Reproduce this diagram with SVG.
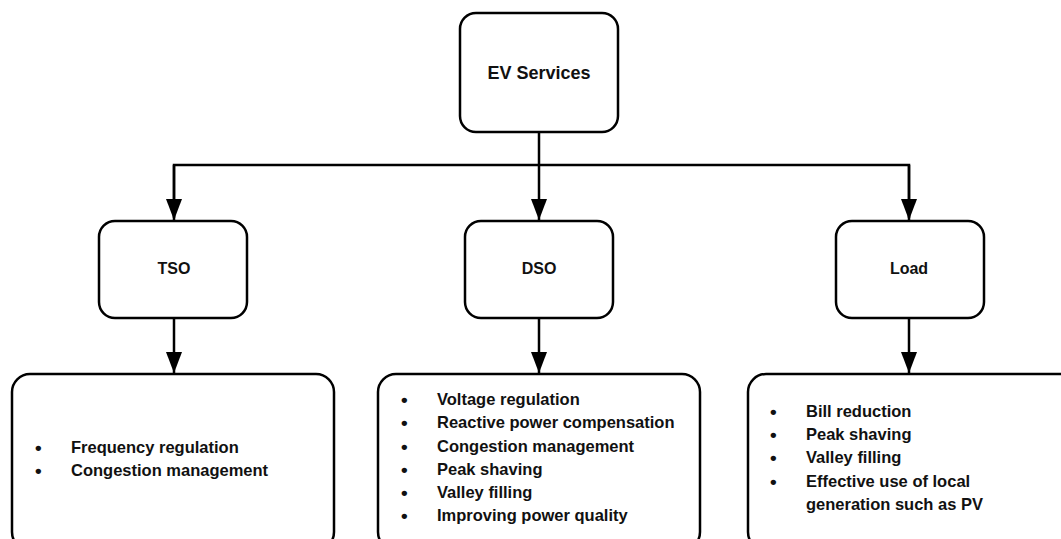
<svg xmlns="http://www.w3.org/2000/svg" width="1061" height="539" viewBox="0 0 1061 539">
<defs>
<marker id="arr" markerUnits="userSpaceOnUse" markerWidth="21" markerHeight="16" viewBox="0 0 21 16" refX="21" refY="8" orient="auto">
<path d="M0,0 L21,8 L0,16 Z" fill="#000"/>
</marker>
</defs>
<style>
.box{fill:#fff;stroke:#000;stroke-width:2.5}
.ln{fill:none;stroke:#000;stroke-width:2.5}
.t{font-family:"Liberation Sans",Arial,sans-serif;font-weight:bold;fill:#111}
.title{font-size:18px;text-anchor:middle}
.lbl{font-size:16px;text-anchor:middle}
.li{font-size:16.5px}
.b{font-size:19px}
</style>
<rect x="0" y="0" width="1061" height="539" fill="#fff"/>
<g id="connectors">
<line class="ln" x1="539" y1="132" x2="539" y2="220" marker-end="url(#arr)"/>
<path class="ln" d="M174,218 L174,165 L909,165 L909,218"/>
<line class="ln" x1="174" y1="165" x2="174" y2="220" marker-end="url(#arr)"/>
<line class="ln" x1="909" y1="165" x2="909" y2="220" marker-end="url(#arr)"/>
<line class="ln" x1="174" y1="318" x2="174" y2="373" marker-end="url(#arr)"/>
<line class="ln" x1="539" y1="318" x2="539" y2="373" marker-end="url(#arr)"/>
<line class="ln" x1="909" y1="318" x2="909" y2="373" marker-end="url(#arr)"/>
</g>
<g id="ev">
<rect class="box" x="460" y="13" width="158" height="119" rx="16"/>
<text class="t title" x="539" y="79">EV Services</text>
</g>
<g id="tso">
<rect class="box" x="99" y="221" width="148" height="97" rx="16"/>
<text class="t lbl" x="174" y="274">TSO</text>
</g>
<g id="dso">
<rect class="box" x="465" y="221" width="148" height="97" rx="16"/>
<text class="t lbl" x="539" y="274">DSO</text>
</g>
<g id="load">
<rect class="box" x="836" y="221" width="148" height="97" rx="16"/>
<text class="t lbl" x="909" y="274">Load</text>
</g>
<g id="tso-services">
<rect class="box" x="12" y="374" width="322" height="176" rx="18"/>
<text class="t li"><tspan class="b" x="35" y="454">•</tspan><tspan x="71" y="453">Frequency regulation</tspan><tspan class="b" x="35" y="477">•</tspan><tspan x="71" y="476">Congestion management</tspan></text>
</g>
<g id="dso-services">
<rect class="box" x="378" y="374" width="322" height="176" rx="18"/>
<text class="t li"><tspan class="b" x="401" y="406">•</tspan><tspan x="437" y="405">Voltage regulation</tspan><tspan class="b" x="401" y="429">•</tspan><tspan x="437" y="428">Reactive power compensation</tspan><tspan class="b" x="401" y="453">•</tspan><tspan x="437" y="452">Congestion management</tspan><tspan class="b" x="401" y="476">•</tspan><tspan x="437" y="475">Peak shaving</tspan><tspan class="b" x="401" y="499">•</tspan><tspan x="437" y="498">Valley filling</tspan><tspan class="b" x="401" y="522">•</tspan><tspan x="437" y="521">Improving power quality</tspan></text>
</g>
<g id="load-services">
<rect class="box" x="748" y="374" width="330" height="176" rx="18"/>
<text class="t li"><tspan class="b" x="770" y="418">•</tspan><tspan x="806" y="417">Bill reduction</tspan><tspan class="b" x="770" y="441">•</tspan><tspan x="806" y="440">Peak shaving</tspan><tspan class="b" x="770" y="464">•</tspan><tspan x="806" y="463">Valley filling</tspan><tspan class="b" x="770" y="488">•</tspan><tspan x="806" y="487">Effective use of local</tspan><tspan x="806" y="510">generation such as PV</tspan></text>
</g>
</svg>
